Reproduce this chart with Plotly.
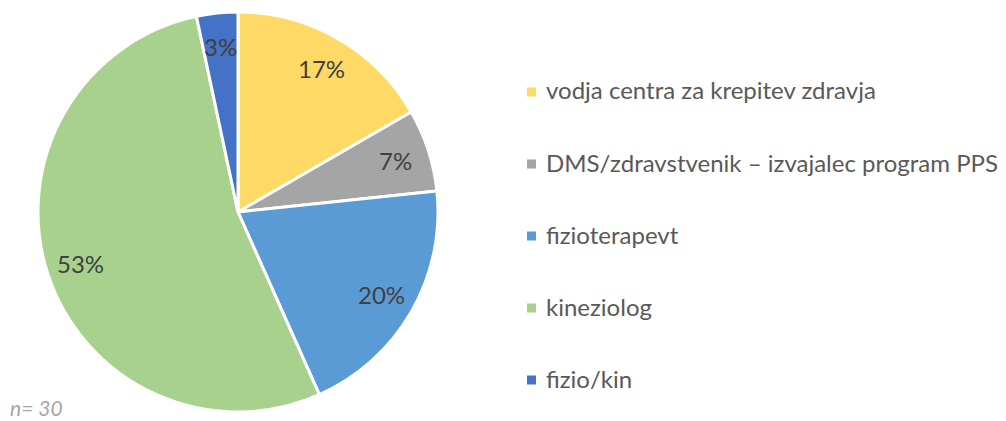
import math
import plotly.graph_objects as go

labels = ['vodja centra za krepitev zdravja',
          'DMS/zdravstvenik – izvajalec program PPS',
          'fizioterapevt',
          'kineziolog',
          'fizio/kin']
values = [5, 2, 6, 16, 1]
colors = ['#FFD966', '#A5A5A5', '#5B9BD5', '#A9D18E', '#4472C4']
note = 'n= 30'

# page has an 8px body margin, so the figure is a bit smaller than the window
OFF = 8
W, H = 1006 - OFF, 421 - OFF

def px(x):
    return (x - OFF) / W

def py(y):
    return 1 - (y - OFF) / H

cx, cy, r = 238, 212, 200

fig = go.Figure()
fig.add_trace(go.Pie(labels=labels, values=values, sort=False, direction='clockwise',
                     rotation=0,
                     marker=dict(colors=colors, line=dict(color='white', width=3)),
                     textinfo='none',
                     domain=dict(x=[px(cx - r), px(cx + r)], y=[py(cy + r), py(cy - r)]),
                     showlegend=False, hoverinfo='label+percent'))

# percentage labels at ~0.83 radius along each slice's mid angle
total = sum(values)
cum = 0
for v in values:
    mid = (cum + v / 2) / total * 2 * math.pi
    cum += v
    lx = cx + 0.83 * r * math.sin(mid)
    ly = cy - 0.83 * r * math.cos(mid)
    fig.add_annotation(x=px(lx), y=py(ly), xref='paper', yref='paper',
                       text='%d%%' % round(v / total * 100), showarrow=False,
                       xanchor='center', yanchor='middle',
                       font=dict(family='Lato', size=24, color='#404040'))

# legend drawn by hand so the spacing matches
for i, (lab, col) in enumerate(zip(labels, colors)):
    yc = 92 + 72 * i
    fig.add_shape(type='rect', xref='paper', yref='paper',
                  x0=px(527), x1=px(536), y0=py(yc + 4.5), y1=py(yc - 4.5),
                  fillcolor=col, line_width=0)
    fig.add_annotation(x=px(544), y=py(yc - 2), xref='paper', yref='paper', text=lab,
                       showarrow=False, xanchor='left', yanchor='middle',
                       font=dict(family='Lato', size=24, color='#595959'))

fig.add_annotation(x=px(8), y=py(407), xref='paper', yref='paper', text='<i>' + note + '</i>',
                   showarrow=False, xanchor='left', yanchor='middle',
                   font=dict(family='Lato', size=21, color='#A6A6A6'))

fig.update_layout(width=W, height=H, margin=dict(l=0, r=0, t=0, b=0),
                  paper_bgcolor='white', plot_bgcolor='white')

fig.write_html('out.html')
